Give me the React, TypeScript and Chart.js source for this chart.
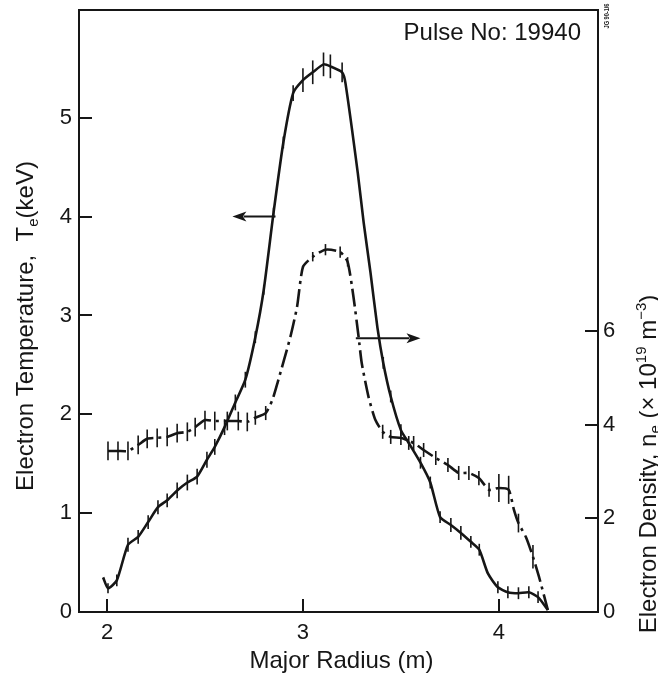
import React, { useEffect, useRef } from 'react';
import { Chart, registerables } from 'chart.js';

Chart.register(...registerables);

// ---- data ----
const teR = [1.98, 2.005, 2.05, 2.107, 2.159, 2.21, 2.26, 2.307, 2.358, 2.41, 2.46, 2.51, 2.55, 2.6, 2.655, 2.706, 2.757, 2.8, 2.85, 2.9, 2.95, 3.0, 3.05, 3.105, 3.14, 3.2, 3.217, 3.28, 3.31, 3.345, 3.38, 3.41, 3.448, 3.5, 3.54, 3.6, 3.65, 3.7, 3.755, 3.806, 3.857, 3.9, 3.944, 3.995, 4.046, 4.1, 4.153, 4.2, 4.25];
const teVal = [0.35, 0.24, 0.32, 0.68, 0.76, 0.91, 1.06, 1.13, 1.23, 1.31, 1.37, 1.54, 1.67, 1.87, 2.12, 2.35, 2.78, 3.26, 4.04, 4.75, 5.25, 5.38, 5.46, 5.54, 5.52, 5.46, 5.35, 4.44, 3.94, 3.43, 2.88, 2.52, 2.18, 1.84, 1.71, 1.51, 1.31, 0.96, 0.88, 0.8, 0.71, 0.63, 0.39, 0.25, 0.2, 0.19, 0.2, 0.15, 0.02];
const teErr = [0, 0.05, 0.06, 0.07, 0.07, 0.07, 0.07, 0.07, 0.08, 0.08, 0.08, 0.08, 0.08, 0.08, 0.08, 0.08, 0.06, 0.05, 0.05, 0.06, 0.08, 0.12, 0.12, 0.12, 0.12, 0.1, 0, 0, 0, 0, 0, 0.06, 0.06, 0.06, 0.07, 0.06, 0.06, 0.06, 0.07, 0.07, 0.06, 0.06, 0, 0.06, 0.06, 0.06, 0.06, 0.06, 0];

const neR = [2.005, 2.056, 2.107, 2.159, 2.205, 2.256, 2.307, 2.358, 2.41, 2.45, 2.5, 2.55, 2.614, 2.67, 2.716, 2.757, 2.81, 2.844, 2.87, 2.936, 2.97, 3.0, 3.05, 3.115, 3.19, 3.228, 3.258, 3.284, 3.3, 3.335, 3.37, 3.407, 3.448, 3.5, 3.565, 3.616, 3.678, 3.74, 3.795, 3.847, 3.898, 3.95, 4.0, 4.05, 4.077, 4.1, 4.138, 4.174, 4.205, 4.25];
const neVal = [3.44, 3.44, 3.44, 3.57, 3.7, 3.72, 3.74, 3.82, 3.85, 3.95, 4.1, 4.08, 4.08, 4.08, 4.06, 4.15, 4.25, 4.53, 4.89, 5.88, 6.52, 7.37, 7.59, 7.74, 7.69, 7.48, 6.73, 5.88, 5.32, 4.59, 4.1, 3.85, 3.74, 3.72, 3.61, 3.46, 3.29, 3.14, 2.97, 2.97, 2.86, 2.61, 2.65, 2.61, 2.18, 1.9, 1.6, 1.18, 0.75, 0.04];
const neErr = [0.2, 0.2, 0.2, 0.2, 0.2, 0.2, 0.2, 0.2, 0.2, 0.2, 0.2, 0.2, 0.2, 0.2, 0.2, 0.15, 0.15, 0, 0, 0, 0, 0, 0.1, 0.12, 0.12, 0.1, 0, 0, 0, 0, 0, 0.15, 0.15, 0.15, 0.15, 0.15, 0.15, 0.15, 0.15, 0.15, 0.15, 0.15, 0.3, 0.3, 0, 0.2, 0, 0.25, 0, 0];

const xTicks = [2, 3, 4];
const teTicks = [0, 1, 2, 3, 4, 5];
const neTicks = [0, 2, 4, 6];
const xRange = [1.857, 4.506];
const teRange = [0, 6.09];
const neRange = [0, 12.86];

// arrows: [from R, to R, value on own axis]
const teArrow = [2.86, 2.64, 4.0];
const neArrow = [3.27, 3.6, 5.85];

const pulseLabel = 'Pulse No: 19940';
const figLabel = 'JG 90-1/6';

const INK = '#161616';
const FONT = "'Liberation Sans', Arial, Helvetica, sans-serif";

type Part = { t: string; size: number; dy: number };

function drawRich(ctx: CanvasRenderingContext2D, parts: Part[], cx: number, cy: number, rot: number) {
  ctx.save();
  let total = 0;
  const widths = parts.map((p) => {
    ctx.font = `${p.size}px ${FONT}`;
    const w = ctx.measureText(p.t).width;
    total += w;
    return w;
  });
  ctx.translate(cx, cy);
  ctx.rotate(rot);
  ctx.textAlign = 'left';
  ctx.textBaseline = 'alphabetic';
  let x = -total / 2;
  parts.forEach((p, i) => {
    ctx.font = `${p.size}px ${FONT}`;
    ctx.fillText(p.t, x, p.dy);
    x += widths[i];
  });
  ctx.restore();
}

function arrow(ctx: CanvasRenderingContext2D, x0: number, x1: number, y: number) {
  const dir = Math.sign(x1 - x0);
  const head = 14;
  ctx.beginPath();
  ctx.moveTo(x0, y);
  ctx.lineTo(x1 - dir * head * 0.8, y);
  ctx.lineWidth = 2;
  ctx.stroke();
  ctx.beginPath();
  ctx.moveTo(x1, y);
  ctx.lineTo(x1 - dir * head, y - 5);
  ctx.lineTo(x1 - dir * head * 0.75, y);
  ctx.lineTo(x1 - dir * head, y + 5);
  ctx.closePath();
  ctx.fill();
}

const decor = {
  id: 'decor',
  afterDatasetsDraw(chart: any) {
    const ctx: CanvasRenderingContext2D = chart.ctx;
    const { left, right, top, bottom } = chart.chartArea;
    const sx = chart.scales.x;
    const sT = chart.scales.yT;
    const sN = chart.scales.yN;
    ctx.save();
    ctx.strokeStyle = INK;
    ctx.fillStyle = INK;
    ctx.lineCap = 'butt';

    // error bars
    ctx.lineWidth = 1.6;
    teR.forEach((r, i) => {
      const e = teErr[i];
      if (!e) return;
      const px = sx.getPixelForValue(r);
      ctx.beginPath();
      ctx.moveTo(px, sT.getPixelForValue(teVal[i] - e));
      ctx.lineTo(px, sT.getPixelForValue(teVal[i] + e));
      ctx.stroke();
    });
    neR.forEach((r, i) => {
      const e = neErr[i];
      if (!e) return;
      const px = sx.getPixelForValue(r);
      ctx.beginPath();
      ctx.moveTo(px, sN.getPixelForValue(neVal[i] - e));
      ctx.lineTo(px, sN.getPixelForValue(neVal[i] + e));
      ctx.stroke();
    });

    // frame
    ctx.lineWidth = 2;
    ctx.strokeRect(left, top, right - left, bottom - top);

    // inward ticks
    const tl = 13;
    ctx.beginPath();
    teTicks.forEach((v) => {
      const y = Math.round(sT.getPixelForValue(v));
      ctx.moveTo(left, y);
      ctx.lineTo(left + tl, y);
    });
    neTicks.forEach((v) => {
      const y = Math.round(sN.getPixelForValue(v));
      ctx.moveTo(right, y);
      ctx.lineTo(right - tl, y);
    });
    xTicks.forEach((v) => {
      const x = Math.round(sx.getPixelForValue(v));
      ctx.moveTo(x, bottom);
      ctx.lineTo(x, bottom - tl);
    });
    ctx.stroke();

    // arrows
    arrow(ctx, sx.getPixelForValue(teArrow[0]), sx.getPixelForValue(teArrow[1]), sT.getPixelForValue(teArrow[2]));
    arrow(ctx, sx.getPixelForValue(neArrow[0]), sx.getPixelForValue(neArrow[1]), sN.getPixelForValue(neArrow[2]));

    // pulse label
    ctx.font = `24px ${FONT}`;
    ctx.textAlign = 'right';
    ctx.textBaseline = 'alphabetic';
    ctx.fillText(pulseLabel, right - 17, top + 30);

    // figure id (small, rotated, fitted to ~25px)
    ctx.save();
    ctx.font = `bold 8px ${FONT}`;
    const fw = ctx.measureText(figLabel).width;
    ctx.translate(right + 9, top + 6);
    ctx.rotate(-Math.PI / 2);
    ctx.scale(Math.min(1, 25 / fw), 1);
    ctx.textAlign = 'center';
    ctx.textBaseline = 'middle';
    ctx.fillText(figLabel, 0, 0);
    ctx.restore();

    // axis titles
    const cyMid = (top + bottom) / 2;
    drawRich(
      ctx,
      [
        { t: 'Electron Temperature,  T', size: 24, dy: 0 },
        { t: 'e', size: 15, dy: 5 },
        { t: '(keV)', size: 24, dy: 0 },
      ],
      33,
      cyMid + 15,
      -Math.PI / 2
    );
    drawRich(
      ctx,
      [
        { t: 'Electron Density, n', size: 24, dy: 0 },
        { t: 'e', size: 15, dy: 4 },
        { t: ' (\u00d7 10', size: 24, dy: 0 },
        { t: '19', size: 15, dy: -10 },
        { t: ' m', size: 24, dy: 0 },
        { t: '\u22123', size: 15, dy: -10 },
        { t: ')', size: 24, dy: 0 },
      ],
      656,
      cyMid + 153,
      -Math.PI / 2
    );
    ctx.font = `24px ${FONT}`;
    ctx.textAlign = 'center';
    ctx.textBaseline = 'alphabetic';
    ctx.fillText('Major Radius (m)', (left + right) / 2 + 3, 668);

    ctx.restore();
  },
};

function fitTo(size: { w?: number; h?: number }) {
  return (s: any) => {
    if (size.w !== undefined) s.width = size.w;
    if (size.h !== undefined) s.height = size.h;
    s.paddingTop = 0;
    s.paddingBottom = 0;
    s.paddingLeft = 0;
    s.paddingRight = 0;
  };
}

export default function App() {
  const ref = useRef<HTMLCanvasElement>(null);
  useEffect(() => {
    if (!ref.current) return;
    const tickFont = { family: FONT, size: 22 };
    const hiddenGrid = { display: false, drawTicks: false, tickLength: 0 };
    const chart = new Chart(ref.current, {
      type: 'line',
      data: {
        datasets: [
          {
            label: 'Te',
            data: teR.map((r, i) => ({ x: r, y: teVal[i] })),
            yAxisID: 'yT',
            borderColor: INK,
            borderWidth: 2.6,
            pointRadius: 0,
            tension: 0.2,
            fill: false,
          },
          {
            label: 'ne',
            data: neR.map((r, i) => ({ x: r, y: neVal[i] })),
            yAxisID: 'yN',
            borderColor: INK,
            borderWidth: 2.6,
            borderDash: [18, 5, 3, 5],
            pointRadius: 0,
            tension: 0.2,
            fill: false,
          },
        ],
      },
      options: {
        responsive: false,
        animation: false,
        events: [],
        layout: { padding: { top: 10, left: 0, right: 0, bottom: 0 } },
        plugins: { legend: { display: false }, tooltip: { enabled: false }, title: { display: false } },
        scales: {
          x: {
            type: 'linear',
            min: xRange[0],
            max: xRange[1],
            grid: hiddenGrid,
            border: { display: false },
            ticks: { color: INK, font: tickFont, padding: 8, maxRotation: 0 },
            afterBuildTicks: (s: any) => {
              s.ticks = xTicks.map((v) => ({ value: v }));
            },
            afterFit: fitTo({ h: 64 }),
          },
          yT: {
            type: 'linear',
            position: 'left',
            min: teRange[0],
            max: teRange[1],
            grid: hiddenGrid,
            border: { display: false },
            ticks: { color: INK, font: tickFont, padding: 7 },
            afterBuildTicks: (s: any) => {
              s.ticks = teTicks.map((v) => ({ value: v }));
            },
            afterFit: fitTo({ w: 79 }),
          },
          yN: {
            type: 'linear',
            position: 'right',
            min: neRange[0],
            max: neRange[1],
            grid: hiddenGrid,
            border: { display: false },
            ticks: { color: INK, font: tickFont, padding: 5 },
            afterBuildTicks: (s: any) => {
              s.ticks = neTicks.map((v) => ({ value: v }));
            },
            afterFit: fitTo({ w: 60 }),
          },
        },
      },
      plugins: [decor],
    } as any);
    return () => chart.destroy();
  }, []);
  return (
    <div style={{ position: 'fixed', left: 0, top: 0, width: 658, height: 676, background: '#fff' }}>
      <canvas ref={ref} width={658} height={676} style={{ display: 'block', width: 658, height: 676 }} />
    </div>
  );
}
